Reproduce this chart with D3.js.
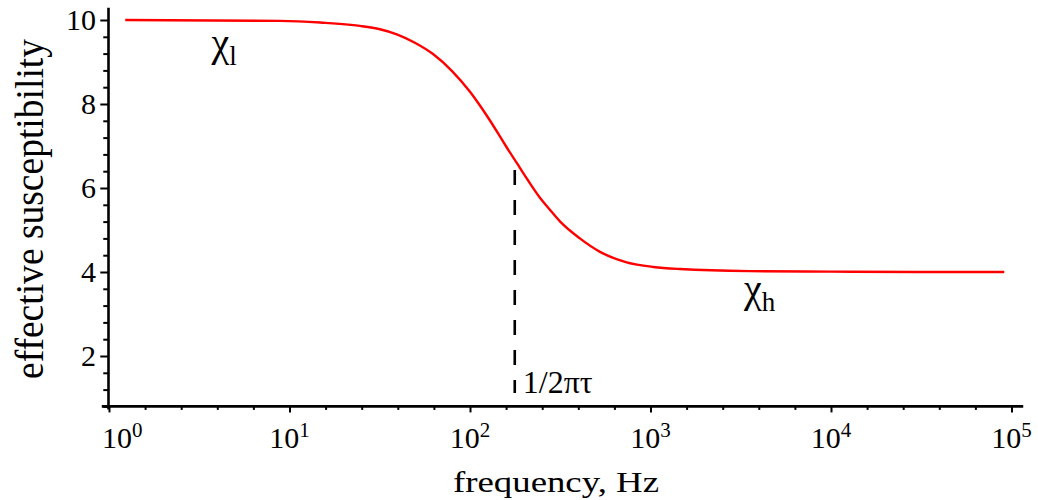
<!DOCTYPE html>
<html>
<head>
<meta charset="utf-8">
<script src="https://cdn.jsdelivr.net/npm/d3@7"></script>
<style>
  html, body { margin: 0; padding: 0; background: #fff; }
  svg { display: block; }
  text { font-family: "Liberation Serif", "Times New Roman", Times, serif; fill: #000; }
</style>
</head>
<body>
<svg id="chart" width="1038" height="500"></svg>
<script>
// ---- data ----
const frequency = [1.23, 8.85, 14.8, 24.6, 31.7, 39.3, 49.5, 62.4, 79.3, 100, 112, 124, 145, 158, 182, 209, 244, 275, 316, 406, 525, 738, 1038, 1455, 3548, 10000, 30000, 91200];
const susceptibility = [10.0, 9.98, 9.94, 9.86, 9.78, 9.66, 9.46, 9.19, 8.79, 8.29, 8.0, 7.72, 7.26, 7.0, 6.59, 6.19, 5.77, 5.50, 5.20, 4.80, 4.48, 4.23, 4.12, 4.07, 4.02, 4.01, 4.0, 4.0];
const xMajorExponents = [0, 1, 2, 3, 4, 5];
const yTickValues = [2, 4, 6, 8, 10];
const markerFreq = 177;           // 1/2πτ
const markerRange = [1.12, 6.43]; // dashed marker extent (susceptibility units)
const chiLow = { label: "χ", sub: "l", f: 3.70, v: 9.14 };
const chiHigh = { label: "χ", sub: "h", f: 3300, v: 3.28 };

// ---- scales ----
const x = d3.scaleLog().domain([1, 1e5]).range([109, 1011.5]);
const y = d3.scaleLinear().domain([0, 10]).range([440, 20]);
const xAxisExtent = [Math.pow(10, -0.04), Math.pow(10, 5.065)];
const yAxisExtent = [0.8, 10.29];

const svg = d3.select("#chart");

// x ticks: evenly spaced in log space, 5 per decade
const xTicks = d3.range(0, 26).map(i => Math.pow(10, i / 5));
const xAxis = d3.axisBottom(x).tickValues(xTicks).tickFormat("").tickSizeOuter(0).tickSize(4);
const gx = svg.append("g").attr("transform", `translate(0,${y(yAxisExtent[0])})`).call(xAxis);
gx.select(".domain").remove();
gx.selectAll(".tick line").attr("stroke", "#000").attr("stroke-width", 2)
  .attr("y2", (d, i) => (i % 5 === 0 ? 6 : 3.5));

// y ticks every 0.4
const yTicks = d3.range(2, 26).map(i => +(i * 0.4).toFixed(1));
const yAxis = d3.axisLeft(y).tickValues(yTicks).tickFormat("").tickSizeOuter(0).tickSize(5);
const gy = svg.append("g").attr("transform", `translate(${x(xAxisExtent[0]) + 6.5},0)`).call(yAxis);
gy.select(".domain").remove();
gy.selectAll(".tick line").attr("stroke", "#000").attr("stroke-width", 2)
  .attr("x2", d => (yTickValues.some(v => Math.abs(v - d) < 1e-6) ? -8 : -5));

// axis lines
svg.append("line")
  .attr("x1", x(xAxisExtent[0])).attr("x2", x(xAxisExtent[1]))
  .attr("y1", y(yAxisExtent[0])).attr("y2", y(yAxisExtent[0]))
  .attr("stroke", "#000").attr("stroke-width", 2.6);
svg.append("line")
  .attr("x1", x(1) - 0.5).attr("x2", x(1) - 0.5)
  .attr("y1", y(yAxisExtent[0]) + 3).attr("y2", y(yAxisExtent[1]))
  .attr("stroke", "#000").attr("stroke-width", 2.6);

// x tick labels 10^n
xMajorExponents.forEach(e => {
  let cx = x(Math.pow(10, e));
  const t = svg.append("text").attr("y", 448).attr("font-size", 30).attr("text-anchor", "middle");
  t.append("tspan").text("10");
  t.append("tspan").attr("dy", -11).attr("font-size", 21).text(String(e));
  const w = t.node().getComputedTextLength();
  cx = Math.max(cx, 102 + w / 2);
  t.attr("x", cx);
});

// y tick labels
yTickValues.forEach(v => {
  svg.append("text").attr("x", 96).attr("y", y(v) + 10)
    .attr("font-size", 30).attr("text-anchor", "end").text(String(v));
});

// axis titles
svg.append("text").attr("x", 556).attr("y", 491.5).attr("font-size", 30)
  .attr("text-anchor", "middle").attr("textLength", 206).attr("lengthAdjust", "spacingAndGlyphs")
  .text("frequency, Hz");
svg.append("text").attr("transform", "translate(43,209) rotate(-90)")
  .attr("font-size", 40).attr("text-anchor", "middle")
  .attr("textLength", 340).attr("lengthAdjust", "spacingAndGlyphs")
  .text("effective susceptibility");

// curve
const line = d3.line()
  .x((d, i) => x(frequency[i]))
  .y(d => y(d))
  .curve(d3.curveMonotoneX);
svg.append("path").datum(susceptibility)
  .attr("d", line).attr("fill", "none").attr("stroke", "#ff0000").attr("stroke-width", 2.4);

// dashed marker at 1/2πτ
svg.append("line")
  .attr("x1", x(markerFreq)).attr("x2", x(markerFreq))
  .attr("y1", y(markerRange[1])).attr("y2", y(markerRange[0]))
  .attr("stroke", "#000").attr("stroke-width", 2.6).attr("stroke-dasharray", "15,15");
svg.append("text").attr("x", x(markerFreq) + 8).attr("y", 393).attr("font-size", 32)
  .text("1/2πτ");

// chi labels
[chiLow, chiHigh].forEach(c => {
  const t = svg.append("text").attr("x", x(c.f)).attr("y", y(c.v)).attr("font-size", 40);
  t.append("tspan").text(c.label);
  t.append("tspan").attr("dy", 9).attr("font-size", 27).text(c.sub);
});
</script>
</body>
</html>
